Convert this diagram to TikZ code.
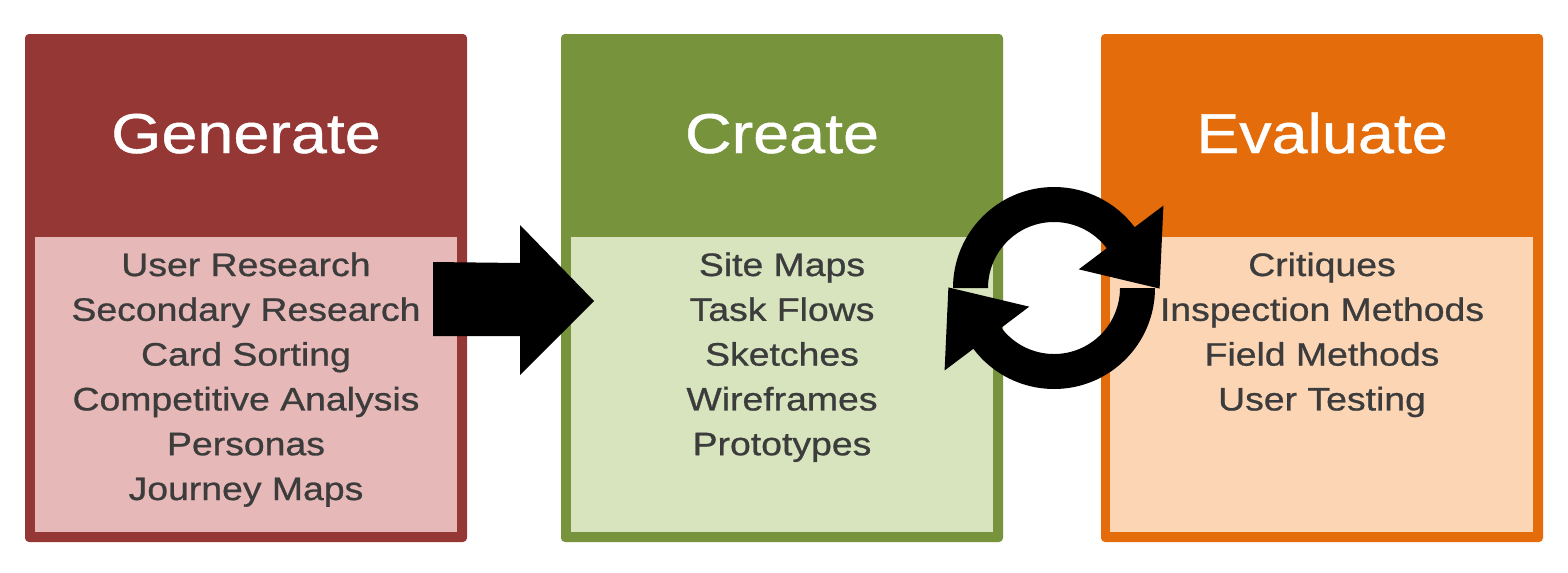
\documentclass[tikz,border=0pt]{standalone}
\usepackage{fontspec}
\setmainfont{Liberation Sans}
\newfontfamily\stretchfont[FakeStretch=1.15,FakeBold=0.8]{Liberation Sans}
\usetikzlibrary{calc}
\definecolor{genDark}{HTML}{953735}
\definecolor{genLight}{HTML}{E6B9B8}
\definecolor{creDark}{HTML}{77933C}
\definecolor{creLight}{HTML}{D7E4BD}
\definecolor{evaDark}{HTML}{E46C0A}
\definecolor{evaLight}{HTML}{FCD5B5}
\definecolor{listText}{HTML}{3C3C3C}
\tikzset{
  outerbox/.style={rounded corners=0.08cm},
  titletext/.style={anchor=base, inner sep=0pt, text=white,
    font=\stretchfont\fontsize{32}{38}\selectfont},
  listtext/.style={anchor=base, inner sep=0pt, text=listText},
}
\newcommand{\itemlist}[1]{\parbox[t]{8.4cm}{\centering\stretchfont\fontsize{18.5}{25.5}\selectfont #1}}
\begin{document}
\begin{tikzpicture}[x=0.02cm,y=-0.02cm]
\useasboundingbox (0,0) rectangle (1568,572);
% boxes
\fill[genDark,outerbox] (25,34) rectangle (467,542);
\fill[genLight] (35,237) rectangle (457,532);
\fill[creDark,outerbox] (561,34) rectangle (1003,542);
\fill[creLight] (571,237) rectangle (993,532);
\fill[evaDark,outerbox] (1101,34) rectangle (1543,542);
\fill[evaLight] (1110,237) rectangle (1533,532);
% titles
\node[titletext] (tgen) at (246,153) {Generate};
\node[titletext] (tcre) at (782,153) {Create};
\node[titletext] (teva) at (1322,153) {Evaluate};
% lists
\node[listtext] (lgen) at (246,276) {\itemlist{User Research\\Secondary Research\\Card Sorting\\Competitive Analysis\\Personas\\Journey Maps}};
\node[listtext] (lcre) at (782,276) {\itemlist{Site Maps\\Task Flows\\Sketches\\Wireframes\\Prototypes}};
\node[listtext] (leva) at (1322,276) {\itemlist{Critiques\\Inspection Methods\\Field Methods\\User Testing}};
% block arrow
\fill[black] (433,262) -- (520,263) -- (520,225) -- (594,301) -- (520,375) -- (520,336) -- (433,336) -- cycle;
% cycle icon
\coordinate (cyc) at (1054,288);
\newcommand{\halfcycle}{%
  \fill[black] ($(cyc)+(180:101)$) arc[start angle=180, end angle=323, radius=101]
    -- ($(cyc)+(323:137)$)
    -- ($(cyc)+(323:84)+(53:64)$)
    -- ($(cyc)+(323:31)$)
    -- ($(cyc)+(323:66)$) arc[start angle=323, end angle=180, radius=66]
    -- cycle;}
\halfcycle
\begin{scope}[rotate around={180:(1054,299)}]
\halfcycle
\end{scope}
\end{tikzpicture}
\end{document}
